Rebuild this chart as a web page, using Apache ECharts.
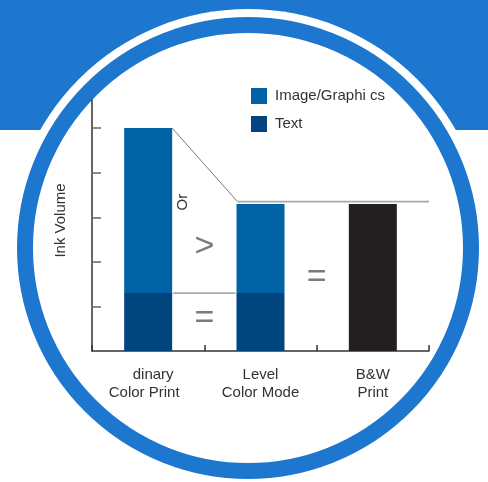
<!DOCTYPE html>
<html>
<head>
<meta charset="utf-8">
<script src="https://cdn.jsdelivr.net/npm/echarts@6/dist/echarts.min.js"></script>
<style>
html,body{margin:0;padding:0;background:#fff;}
#chart{width:488px;height:482px;}
</style>
</head>
<body>
<div id="chart"></div>
<script>
// ---- data ----
const categories = ['dinary\nColor Print', 'Level\nColor Mode', 'B&W\nPrint'];
const textInk = [1.3, 1.3, '-'];
const imageInk = [3.7, 2.0, '-'];
const bwInk = ['-', '-', 3.3];
const yTickValues = [1, 2, 3, 4, 5];
const yMax = 5.63;
// connector levels: top of ordinary bar, level of reduced bars, text level
const connectorHigh = 5;
const connectorMid = 3.35;
const connectorLow = 1.3;
// annotations between bars
const noteTexts = ['Or', '>', '=', '='];
const noteCat = [0, 0, 0, 1];
const noteOffset = [0.31, 0.5, 0.5, 0.5];
const noteValue = [3.34, 2.33, 0.72, 1.64];

const FONT = '"Liberation Sans", Arial, Helvetica, sans-serif';
const BLUE = '#1E77CF';
const BAR_W = 48;

const chart = echarts.init(document.getElementById('chart'));

const option = {
  animation: false,
  backgroundColor: '#ffffff',
  graphic: [
    { type: 'rect', z: -10, shape: { x: 0, y: 0, width: 488, height: 130 }, style: { fill: BLUE } },
    { type: 'circle', z: -9, shape: { cx: 248, cy: 248, r: 239 }, style: { fill: '#ffffff' } },
    { type: 'circle', z: -8, shape: { cx: 248, cy: 248, r: 223 }, style: { fill: '#ffffff', stroke: BLUE, lineWidth: 16 } }
  ],
  legend: {
    orient: 'vertical',
    left: 251,
    top: 88,
    padding: 0,
    itemWidth: 16,
    itemHeight: 16,
    itemGap: 12,
    icon: 'rect',
    data: ['Image/Graphi cs', 'Text'],
    textStyle: { fontFamily: FONT, fontSize: 15, color: '#333', padding: [0, 0, 0, 3] }
  },
  grid: { left: 92, right: 59, top: 100, bottom: 131, containLabel: false },
  xAxis: {
    type: 'category',
    data: categories,
    axisLine: { lineStyle: { color: '#333', width: 1.5 } },
    axisTick: { show: true, inside: true, length: 6, lineStyle: { color: '#333', width: 1.5 } },
    axisLabel: {
      interval: 0,
      margin: 15,
      fontFamily: FONT,
      fontSize: 15,
      lineHeight: 18,
      color: '#333',
      formatter: function (v, i) {
        const parts = v.split('\n');
        if (i === 0) return '{a|' + parts[0] + '}\n{b|' + parts[1] + '}';
        return parts[0] + '\n' + parts[1];
      },
      rich: {
        a: { fontFamily: FONT, fontSize: 15, lineHeight: 18, color: '#333', padding: [0, 0, 0, 10] },
        b: { fontFamily: FONT, fontSize: 15, lineHeight: 18, color: '#333', padding: [0, 8, 0, 0] }
      }
    }
  },
  yAxis: {
    type: 'value',
    min: 0,
    max: yMax,
    name: 'Ink Volume',
    nameLocation: 'middle',
    nameRotate: 90,
    nameGap: 24,
    nameTextStyle: { fontFamily: FONT, fontSize: 15, color: '#333', padding: [0, 0, 0, 10] },
    axisLine: { show: true, lineStyle: { color: '#333', width: 1.5 } },
    axisTick: { show: true, inside: true, length: 9, customValues: yTickValues, lineStyle: { color: '#666', width: 1.5 } },
    axisLabel: { show: false },
    splitLine: { show: false }
  },
  series: [
    {
      name: 'Text', type: 'bar', stack: 'ink', barWidth: BAR_W,
      itemStyle: { color: '#00457E' }, data: textInk
    },
    {
      name: 'Image/Graphi cs', type: 'bar', stack: 'ink', barWidth: BAR_W,
      itemStyle: { color: '#0063A6' }, data: imageInk
    },
    {
      name: 'B&W', type: 'bar', stack: 'ink', barWidth: BAR_W,
      itemStyle: { color: '#231F20' }, data: bwInk
    },
    {
      name: 'connectors', type: 'custom', z: 5, silent: true,
      data: [[0, connectorHigh]],
      renderItem: function (params, api) {
        const band = api.size([1, 0])[0];
        const half = BAR_W / 2;
        const a = api.coord([0, connectorHigh]);
        const b = api.coord([1, connectorMid]);
        const c = api.coord([2, connectorMid]);
        const lo0 = api.coord([0, connectorLow]);
        const lo1 = api.coord([1, connectorLow]);
        return {
          type: 'group',
          children: [
            { type: 'line', shape: { x1: a[0] + half, y1: a[1], x2: b[0] - half + 1, y2: b[1] },
              style: { stroke: '#7a7a7a', lineWidth: 1 } },
            { type: 'line', shape: { x1: b[0] - half + 1, y1: b[1], x2: c[0] + band / 2, y2: c[1] },
              style: { stroke: '#a8a8a8', lineWidth: 1.8 } },
            { type: 'line', shape: { x1: lo0[0] + half + 1, y1: lo0[1], x2: lo1[0] - half - 1, y2: lo1[1] },
              style: { stroke: '#a8a8a8', lineWidth: 1.8 } }
          ]
        };
      }
    },
    {
      name: 'notes', type: 'custom', z: 5, silent: true,
      data: noteCat.map(function (c, i) { return [c, noteValue[i]]; }),
      renderItem: function (params, api) {
        const i = params.dataIndex;
        const band = api.size([1, 0])[0];
        const p = api.coord([api.value(0), api.value(1)]);
        const x = p[0] + noteOffset[i] * band;
        const t = noteTexts[i];
        const isWord = t === 'Or';
        return {
          type: 'text',
          x: x, y: p[1],
          rotation: isWord ? Math.PI / 2 : 0,
          style: {
            text: t,
            x: 0, y: 0,
            align: 'center',
            verticalAlign: 'middle',
            fontFamily: FONT,
            fontSize: isWord ? 15 : 34,
            fill: isWord ? '#333' : '#7a7a7a'
          }
        };
      }
    }
  ]
};
chart.setOption(option);
</script>
</body>
</html>
